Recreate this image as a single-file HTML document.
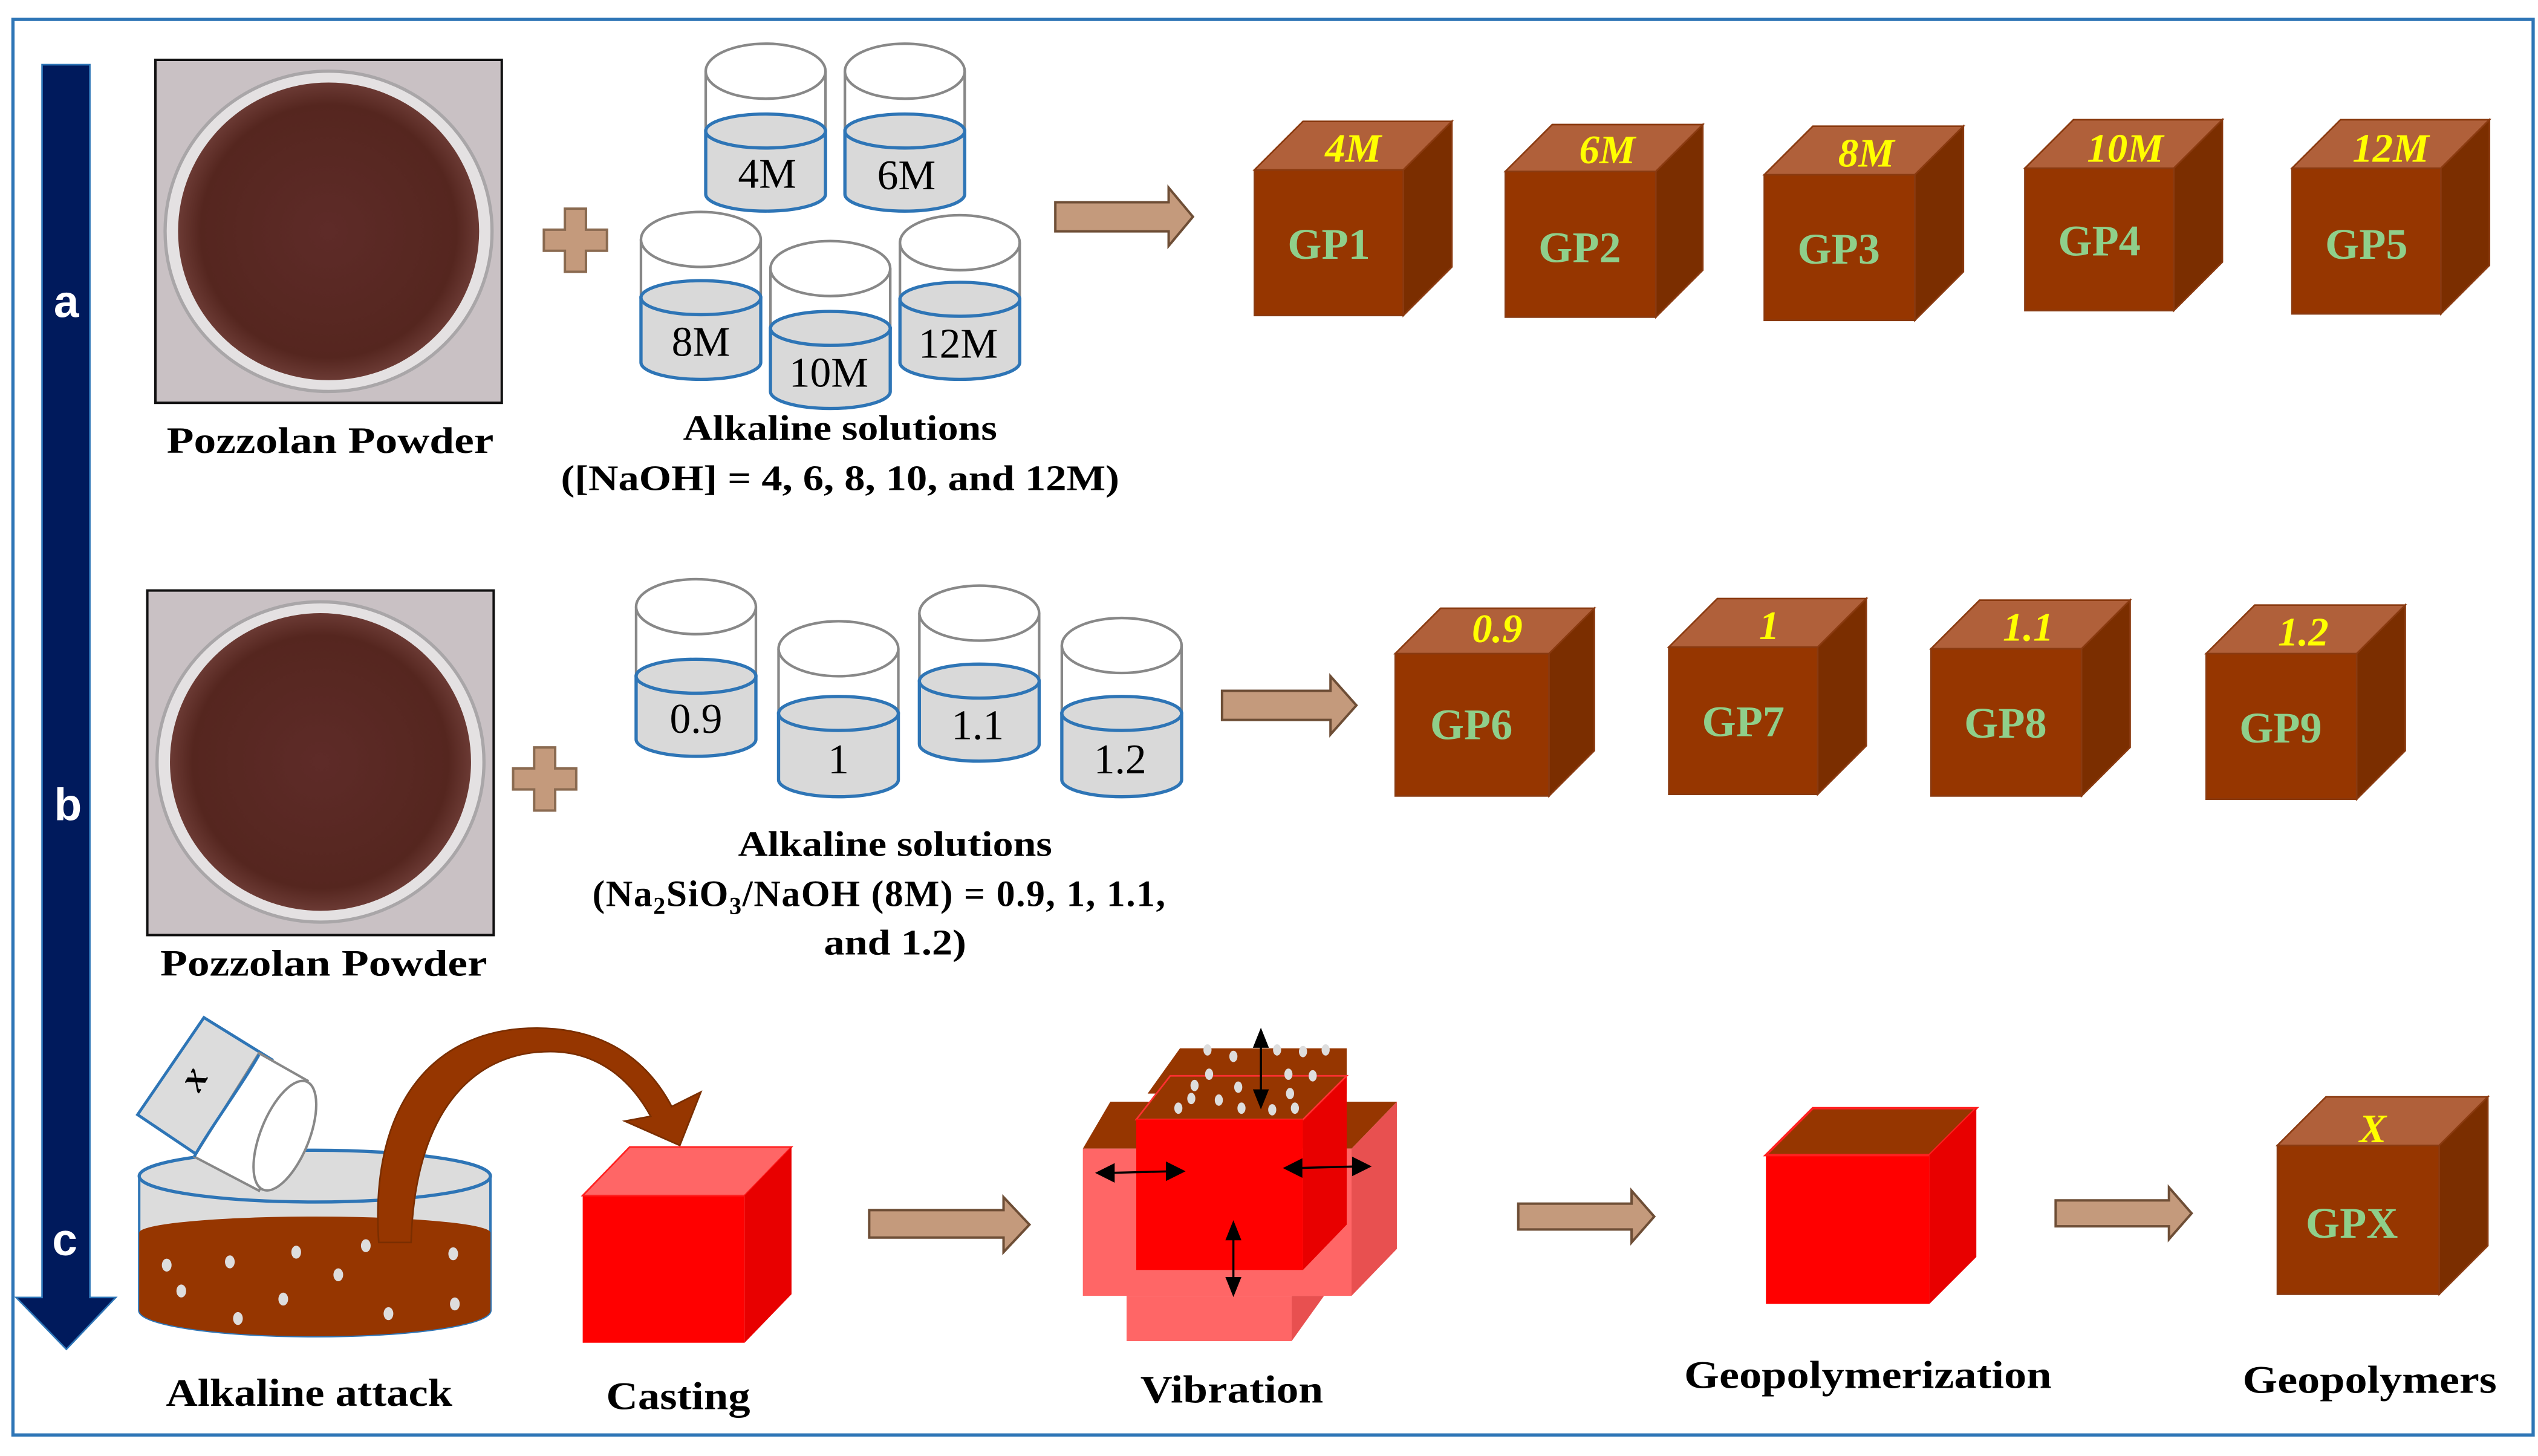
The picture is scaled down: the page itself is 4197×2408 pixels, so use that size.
<!DOCTYPE html>
<html><head><meta charset="utf-8">
<style>
html,body{margin:0;padding:0;background:#fff;}
svg{display:block;}
text{font-family:"Liberation Serif",serif;font-weight:bold;}
</style></head>
<body>
<svg width="4197" height="2408" viewBox="0 0 1568 900" preserveAspectRatio="none" xmlns="http://www.w3.org/2000/svg">
<defs>
<radialGradient id="pz" cx="50%" cy="50%" r="50%">
<stop offset="0%" stop-color="#5e2b28"/><stop offset="85%" stop-color="#55261f"/><stop offset="100%" stop-color="#6b3a34"/>
</radialGradient>
</defs>
<rect x="0" y="0" width="1568" height="900" fill="#fff"/>
<rect x="8" y="12" width="1557" height="875" fill="none" stroke="#2e75b6" stroke-width="2"/>

<!-- big arrow -->
<polygon points="26,40 55.5,40 55.5,802 71.5,802 41,834 10,802 26,802" fill="#001a5c" stroke="#2e75b6" stroke-width="1"/>
<text x="41" y="196" fill="#fff" font-size="28" text-anchor="middle" style="font-family:'Liberation Sans',sans-serif">a</text>
<text x="42" y="507" fill="#fff" font-size="28" text-anchor="middle" style="font-family:'Liberation Sans',sans-serif">b</text>
<text x="40" y="776" fill="#fff" font-size="28" text-anchor="middle" style="font-family:'Liberation Sans',sans-serif">c</text>

<!-- pozzolan a -->
<rect x="96" y="37" width="214" height="212" fill="#c9c1c4" stroke="#111" stroke-width="1.5"/>
<ellipse cx="203" cy="143" rx="101" ry="99" fill="#e4e1e2" stroke="#a9a6a8" stroke-width="2"/>
<ellipse cx="203" cy="143" rx="93" ry="92" fill="url(#pz)"/>
<text x="204" y="280" font-size="23" text-anchor="middle" textLength="202" lengthAdjust="spacingAndGlyphs">Pozzolan Powder</text>
<!-- pozzolan b -->
<rect x="91" y="365" width="214" height="213" fill="#c9c1c4" stroke="#111" stroke-width="1.5"/>
<ellipse cx="198" cy="471" rx="101" ry="99" fill="#e4e1e2" stroke="#a9a6a8" stroke-width="2"/>
<ellipse cx="198" cy="471" rx="93" ry="92" fill="url(#pz)"/>
<text x="200" y="603" font-size="23" text-anchor="middle" textLength="202" lengthAdjust="spacingAndGlyphs">Pozzolan Powder</text>

<!-- plus signs -->
<polygon points="349,129 362,129 362,142 375,142 375,155 362,155 362,168 349,168 349,155 336,155 336,142 349,142" fill="#c49a7c" stroke="#8a6a50" stroke-width="1.5"/>
<polygon points="330,462 343,462 343,475 356,475 356,488 343,488 343,501 330,501 330,488 317,488 317,475 330,475" fill="#c49a7c" stroke="#8a6a50" stroke-width="1.5"/>

<!-- beakers row a -->
<g stroke-width="1.6">
<path d="M436,44 L436,120 A37,10.5 0 0 0 510,120 L510,44" fill="#fff" stroke="#888"/>
<ellipse cx="473" cy="44" rx="37" ry="17" fill="#fff" stroke="#888"/>
<path d="M436,81 L436,120 A37,10.5 0 0 0 510,120 L510,81 Z" fill="#d9d9d9" stroke="#2e75b6" stroke-width="2"/>
<ellipse cx="473" cy="81" rx="37" ry="10.5" fill="#d9d9d9" stroke="#2e75b6" stroke-width="2"/>
<text x="474" y="116" font-size="26" text-anchor="middle" style="font-weight:normal">4M</text>
<path d="M522,44 L522,120 A37,10.5 0 0 0 596,120 L596,44" fill="#fff" stroke="#888"/>
<ellipse cx="559" cy="44" rx="37" ry="17" fill="#fff" stroke="#888"/>
<path d="M522,81 L522,120 A37,10.5 0 0 0 596,120 L596,81 Z" fill="#d9d9d9" stroke="#2e75b6" stroke-width="2"/>
<ellipse cx="559" cy="81" rx="37" ry="10.5" fill="#d9d9d9" stroke="#2e75b6" stroke-width="2"/>
<text x="560" y="117" font-size="26" text-anchor="middle" style="font-weight:normal">6M</text>
<path d="M396,148 L396,224 A37,10.5 0 0 0 470,224 L470,148" fill="#fff" stroke="#888"/>
<ellipse cx="433" cy="148" rx="37" ry="17" fill="#fff" stroke="#888"/>
<path d="M396,184 L396,224 A37,10.5 0 0 0 470,224 L470,184 Z" fill="#d9d9d9" stroke="#2e75b6" stroke-width="2"/>
<ellipse cx="433" cy="184" rx="37" ry="10.5" fill="#d9d9d9" stroke="#2e75b6" stroke-width="2"/>
<text x="433" y="220" font-size="26" text-anchor="middle" style="font-weight:normal">8M</text>
<path d="M556,150 L556,224 A37,10.5 0 0 0 630,224 L630,150" fill="#fff" stroke="#888"/>
<ellipse cx="593" cy="150" rx="37" ry="17" fill="#fff" stroke="#888"/>
<path d="M556,185 L556,224 A37,10.5 0 0 0 630,224 L630,185 Z" fill="#d9d9d9" stroke="#2e75b6" stroke-width="2"/>
<ellipse cx="593" cy="185" rx="37" ry="10.5" fill="#d9d9d9" stroke="#2e75b6" stroke-width="2"/>
<text x="592" y="221" font-size="26" text-anchor="middle" style="font-weight:normal">12M</text>
<path d="M476,166 L476,242 A37,10.5 0 0 0 550,242 L550,166" fill="#fff" stroke="#888"/>
<ellipse cx="513" cy="166" rx="37" ry="17" fill="#fff" stroke="#888"/>
<path d="M476,203 L476,242 A37,10.5 0 0 0 550,242 L550,203 Z" fill="#d9d9d9" stroke="#2e75b6" stroke-width="2"/>
<ellipse cx="513" cy="203" rx="37" ry="10.5" fill="#d9d9d9" stroke="#2e75b6" stroke-width="2"/>
<text x="512" y="239" font-size="26" text-anchor="middle" style="font-weight:normal">10M</text>
</g>
<text x="519" y="272" font-size="22" text-anchor="middle" textLength="194" lengthAdjust="spacingAndGlyphs">Alkaline solutions</text>
<text x="519" y="303" font-size="22" text-anchor="middle" textLength="345" lengthAdjust="spacingAndGlyphs">([NaOH] = 4, 6, 8, 10, and 12M)</text>

<!-- beakers row b -->
<g stroke-width="1.6">
<path d="M393,375 L393,457 A37,10.5 0 0 0 467,457 L467,375" fill="#fff" stroke="#888"/>
<ellipse cx="430" cy="375" rx="37" ry="17" fill="#fff" stroke="#888"/>
<path d="M393,418 L393,457 A37,10.5 0 0 0 467,457 L467,418 Z" fill="#d9d9d9" stroke="#2e75b6" stroke-width="2"/>
<ellipse cx="430" cy="418" rx="37" ry="10.5" fill="#d9d9d9" stroke="#2e75b6" stroke-width="2"/>
<text x="430" y="453" font-size="26" text-anchor="middle" style="font-weight:normal">0.9</text>
<path d="M481,401 L481,482 A37,10.5 0 0 0 555,482 L555,401" fill="#fff" stroke="#888"/>
<ellipse cx="518" cy="401" rx="37" ry="17" fill="#fff" stroke="#888"/>
<path d="M481,441 L481,482 A37,10.5 0 0 0 555,482 L555,441 Z" fill="#d9d9d9" stroke="#2e75b6" stroke-width="2"/>
<ellipse cx="518" cy="441" rx="37" ry="10.5" fill="#d9d9d9" stroke="#2e75b6" stroke-width="2"/>
<text x="518" y="478" font-size="26" text-anchor="middle" style="font-weight:normal">1</text>
<path d="M568,379 L568,460 A37,10.5 0 0 0 642,460 L642,379" fill="#fff" stroke="#888"/>
<ellipse cx="605" cy="379" rx="37" ry="17" fill="#fff" stroke="#888"/>
<path d="M568,421 L568,460 A37,10.5 0 0 0 642,460 L642,421 Z" fill="#d9d9d9" stroke="#2e75b6" stroke-width="2"/>
<ellipse cx="605" cy="421" rx="37" ry="10.5" fill="#d9d9d9" stroke="#2e75b6" stroke-width="2"/>
<text x="604" y="457" font-size="26" text-anchor="middle" style="font-weight:normal">1.1</text>
<path d="M656,399 L656,482 A37,10.5 0 0 0 730,482 L730,399" fill="#fff" stroke="#888"/>
<ellipse cx="693" cy="399" rx="37" ry="17" fill="#fff" stroke="#888"/>
<path d="M656,441 L656,482 A37,10.5 0 0 0 730,482 L730,441 Z" fill="#d9d9d9" stroke="#2e75b6" stroke-width="2"/>
<ellipse cx="693" cy="441" rx="37" ry="10.5" fill="#d9d9d9" stroke="#2e75b6" stroke-width="2"/>
<text x="692" y="478" font-size="26" text-anchor="middle" style="font-weight:normal">1.2</text>
</g>
<text x="553" y="529" font-size="22" text-anchor="middle" textLength="194" lengthAdjust="spacingAndGlyphs">Alkaline solutions</text>
<text x="366" y="560" font-size="23" letter-spacing="0.6">(Na<tspan font-size="15" dy="5">2</tspan><tspan dy="-5">SiO</tspan><tspan font-size="15" dy="5">3</tspan><tspan dy="-5">/NaOH (8M) = 0.9, 1, 1.1,</tspan></text>
<text x="553" y="590" font-size="22" text-anchor="middle" textLength="88" lengthAdjust="spacingAndGlyphs">and 1.2)</text>

<!-- tan arrows -->
<g fill="#c49a7c" stroke="#6e4e36" stroke-width="1.5">
<polygon points="652,125 722,125 722,116 737,134 722,152 722,143 652,143"/>
<polygon points="755,427 822,427 822,418 838,436 822,454 822,445 755,445"/>
<polygon points="537,748 620,748 620,740 636,757 620,774 620,765 537,765"/>
<polygon points="938,744 1008,744 1008,736 1022,752 1008,768 1008,760 938,760"/>
<polygon points="1270,742 1340,742 1340,734 1354,750 1340,766 1340,758 1270,758"/>
</g>

<!-- brown cubes -->
<g stroke="#8a3a10" stroke-width="1">
<rect x="775" y="105" width="92" height="90" fill="#963600"/>
<polygon points="775,105 805,75 897,75 867,105" fill="#b0603a"/>
<polygon points="867,105 897,75 897,165 867,195" fill="#7b2e00"/>
<rect x="930" y="106" width="93" height="90" fill="#963600"/>
<polygon points="930,106 959,77 1052,77 1023,106" fill="#b0603a"/>
<polygon points="1023,106 1052,77 1052,167 1023,196" fill="#7b2e00"/>
<rect x="1090" y="108" width="93" height="90" fill="#963600"/>
<polygon points="1090,108 1120,78 1213,78 1183,108" fill="#b0603a"/>
<polygon points="1183,108 1213,78 1213,168 1183,198" fill="#7b2e00"/>
<rect x="1251" y="104" width="92" height="88" fill="#963600"/>
<polygon points="1251,104 1281,74 1373,74 1343,104" fill="#b0603a"/>
<polygon points="1343,104 1373,74 1373,162 1343,192" fill="#7b2e00"/>
<rect x="1416" y="104" width="92" height="90" fill="#963600"/>
<polygon points="1416,104 1446,74 1538,74 1508,104" fill="#b0603a"/>
<polygon points="1508,104 1538,74 1538,164 1508,194" fill="#7b2e00"/>
<rect x="862" y="404" width="95" height="88" fill="#963600"/>
<polygon points="862,404 890,376 985,376 957,404" fill="#b0603a"/>
<polygon points="957,404 985,376 985,464 957,492" fill="#7b2e00"/>
<rect x="1031" y="400" width="92" height="91" fill="#963600"/>
<polygon points="1031,400 1061,370 1153,370 1123,400" fill="#b0603a"/>
<polygon points="1123,400 1153,370 1153,461 1123,491" fill="#7b2e00"/>
<rect x="1193" y="401" width="93" height="91" fill="#963600"/>
<polygon points="1193,401 1223,371 1316,371 1286,401" fill="#b0603a"/>
<polygon points="1286,401 1316,371 1316,462 1286,492" fill="#7b2e00"/>
<rect x="1363" y="404" width="93" height="90" fill="#963600"/>
<polygon points="1363,404 1393,374 1486,374 1456,404" fill="#b0603a"/>
<polygon points="1456,404 1486,374 1486,464 1456,494" fill="#7b2e00"/>
<rect x="1407" y="708" width="100" height="92" fill="#963600"/>
<polygon points="1407,708 1437,678 1537,678 1507,708" fill="#b0603a"/>
<polygon points="1507,708 1537,678 1537,770 1507,800" fill="#7b2e00"/>
</g>
<g font-size="25" font-style="italic" fill="#ffff00" text-anchor="middle">
<text x="836" y="100">4M</text><text x="993" y="101">6M</text><text x="1153" y="103">8M</text>
<text x="1313" y="100">10M</text><text x="1477" y="100">12M</text>
<text x="925" y="397">0.9</text><text x="1093" y="395">1</text><text x="1253" y="396">1.1</text><text x="1423" y="399">1.2</text>
<text x="1466" y="706">X</text>
</g>
<g font-size="27" fill="#8fcf8a" text-anchor="middle">
<text x="821" y="160">GP1</text><text x="976" y="162">GP2</text><text x="1136" y="163">GP3</text><text x="1297" y="158">GP4</text><text x="1462" y="160">GP5</text>
<text x="909" y="457">GP6</text><text x="1077" y="455">GP7</text><text x="1239" y="456">GP8</text><text x="1409" y="459">GP9</text>
<text x="1453" y="765">GPX</text>
</g>

<!-- alkaline attack beaker -->
<path d="M86,727 L86,810 A108.5,16 0 0 0 303,810 L303,727" fill="#dcdcdc" stroke="#2e75b6" stroke-width="1.5"/>
<path d="M86,762 L86,810 A108.5,16 0 0 0 303,810 L303,762 A108.5,10 0 0 0 86,762 Z" fill="#963600"/>
<ellipse cx="194.5" cy="727" rx="108.5" ry="16" fill="#dcdcdc" stroke="#2e75b6" stroke-width="2"/>
<g fill="#ddd">
<ellipse cx="103" cy="782" rx="3" ry="4"/><ellipse cx="142" cy="780" rx="3" ry="4"/><ellipse cx="183" cy="774" rx="3" ry="4"/>
<ellipse cx="226" cy="770" rx="3" ry="4"/><ellipse cx="280" cy="775" rx="3" ry="4"/><ellipse cx="209" cy="788" rx="3" ry="4"/>
<ellipse cx="112" cy="798" rx="3" ry="4"/><ellipse cx="175" cy="803" rx="3" ry="4"/><ellipse cx="281" cy="806" rx="3" ry="4"/>
<ellipse cx="147" cy="815" rx="3" ry="4"/><ellipse cx="240" cy="812" rx="3" ry="4"/>
</g>
<polygon points="126,629 168,655 128,718 85,689" fill="#dcdcdc" stroke="#2e75b6" stroke-width="1.8"/>
<polygon points="160,651 190,668 160,736 120,715" fill="#fff" stroke="#888" stroke-width="1.5"/>
<ellipse cx="176" cy="702" rx="15" ry="36" transform="rotate(22 176 702)" fill="#fff" stroke="#888" stroke-width="1.5"/>
<path d="M160,652 C150,670 128,700 120,715" fill="none" stroke="#2e75b6" stroke-width="1.8"/>
<text x="120" y="674" font-size="24" font-style="italic" text-anchor="middle" transform="rotate(-60 120 667)">x</text>
<path d="M234,768 C228,680 270,630 343,636 C385,640 405,665 415,684 L433,675 L420,708 L386,693 L402,690 C390,668 370,650 340,650 C290,650 256,690 254,768 Z" fill="#963600" stroke="#7a2e00" stroke-width="1"/>

<!-- casting -->
<rect x="360" y="739" width="100" height="91" fill="#ff0000"/>
<polygon points="360,739 389,709 489,709 460,739" fill="#ff6666" stroke="#ff2020" stroke-width="1"/>
<polygon points="460,739 489,709 489,800 460,830" fill="#e80000"/>

<!-- vibration -->
<polygon points="835,710 863,681 863,772 835,801" fill="#e85050"/>
<polygon points="669,710 686,681 863,681 835,710" fill="#963600"/>
<rect x="669" y="710" width="166" height="91" fill="#ff6666"/>
<rect x="696" y="801" width="102" height="28" fill="#ff6666"/>
<polygon points="798,801 818,801 798,829" fill="#e85050"/>
<polygon points="709,676 729,648 832,648 832,676" fill="#963600"/>
<polygon points="805,692 832,665 832,757 805,785" fill="#e80000"/>
<polygon points="702,692 723,665 832,665 805,692" fill="#963600" stroke="#ff3030" stroke-width="1"/>
<rect x="702" y="692" width="103" height="93" fill="#ff0000"/>
<g fill="#ddd">
<ellipse cx="746" cy="649" rx="2.5" ry="3.5"/><ellipse cx="762" cy="653" rx="2.5" ry="3.5"/><ellipse cx="789" cy="649" rx="2.5" ry="3.5"/><ellipse cx="805" cy="650" rx="2.5" ry="3.5"/><ellipse cx="819" cy="649" rx="2.5" ry="3.5"/>
<ellipse cx="747" cy="664" rx="2.5" ry="3.5"/><ellipse cx="796" cy="664" rx="2.5" ry="3.5"/><ellipse cx="811" cy="665" rx="2.5" ry="3.5"/>
<ellipse cx="738" cy="671" rx="2.5" ry="3.5"/><ellipse cx="765" cy="672" rx="2.5" ry="3.5"/><ellipse cx="797" cy="676" rx="2.5" ry="3.5"/>
<ellipse cx="736" cy="679" rx="2.5" ry="3.5"/><ellipse cx="753" cy="680" rx="2.5" ry="3.5"/><ellipse cx="767" cy="685" rx="2.5" ry="3.5"/><ellipse cx="728" cy="685" rx="2.5" ry="3.5"/><ellipse cx="786" cy="686" rx="2.5" ry="3.5"/><ellipse cx="800" cy="685" rx="2.5" ry="3.5"/>
</g>
<g stroke="#000" stroke-width="1.3" fill="#000">
<line x1="779" y1="645" x2="779" y2="676"/><polygon points="779,637 775,647 783,647"/><polygon points="779,684 775,674 783,674"/>
<line x1="762" y1="764" x2="762" y2="792"/><polygon points="762,756 758,766 766,766"/><polygon points="762,800 758,790 766,790"/>
<line x1="686" y1="725" x2="724" y2="724"/><polygon points="678,725 688,720 688,730"/><polygon points="731,724 721,719 721,729"/>
<line x1="802" y1="722" x2="838" y2="721"/><polygon points="794,722 804,717 804,727"/><polygon points="846,721 836,716 836,726"/>
</g>

<!-- geopolymerization box -->
<rect x="1091" y="714" width="101" height="92" fill="#ff0000"/>
<polygon points="1091,714 1120,685 1221,685 1192,714" fill="#963600" stroke="#ff2020" stroke-width="1.5"/>
<polygon points="1192,714 1221,685 1221,777 1192,806" fill="#e80000"/>

<!-- bottom labels -->
<g font-size="24" text-anchor="middle">
<text x="191" y="869" textLength="177" lengthAdjust="spacingAndGlyphs">Alkaline attack</text>
<text x="419" y="871" textLength="89" lengthAdjust="spacingAndGlyphs">Casting</text>
<text x="761" y="867" textLength="113" lengthAdjust="spacingAndGlyphs">Vibration</text>
<text x="1154" y="858" textLength="227" lengthAdjust="spacingAndGlyphs">Geopolymerization</text>
<text x="1464" y="861" textLength="157" lengthAdjust="spacingAndGlyphs">Geopolymers</text>
</g>
</svg>
</body></html>
